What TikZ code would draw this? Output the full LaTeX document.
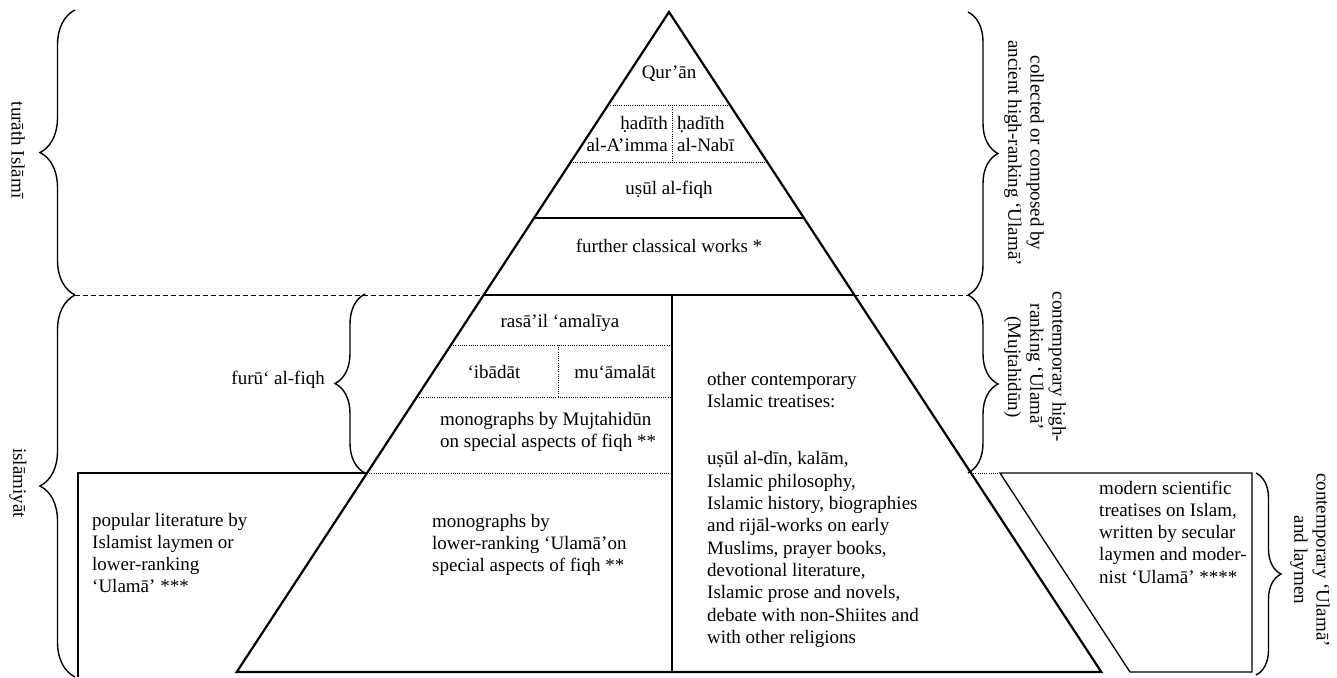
\documentclass[tikz,border=0pt]{standalone}
\usepackage{fontspec}
\setmainfont{Liberation Serif}
\usetikzlibrary{decorations.pathreplacing}
\begin{document}
\begin{tikzpicture}[x=1pt,y=-1pt,
  lbl/.style={font=\fontsize{19}{22.3}\selectfont, inner sep=0pt, align=left},
  clbl/.style={font=\fontsize{19}{22.3}\selectfont, inner sep=0pt, align=center},
  rlbl/.style={clbl, rotate=-90},
  tri/.style={line width=2.2pt, line join=miter},
  solidl/.style={line width=1.3pt},
  dotl/.style={line width=1pt, dash pattern=on 1pt off 1.2pt},
  dashl/.style={line width=1pt, dash pattern=on 5pt off 3pt},
  brc/.style={line width=1.4pt, decorate, decoration={brace, amplitude=#1}},
]
\useasboundingbox (0,0) rectangle (1337,677);
% triangle
\coordinate (A) at (669,12);
\coordinate (BL) at (236.7,672);
\coordinate (BR) at (1101.3,672);
% level points
\coordinate (q1l) at (608.1,105); \coordinate (q1r) at (729.9,105);
\coordinate (h1l) at (570.75,162); \coordinate (h1r) at (767.25,162);
\coordinate (u1l) at (534.1,218); \coordinate (u1r) at (803.9,218);
\coordinate (d1l) at (483.6,295); \coordinate (d1r) at (854.4,295);
\coordinate (r1l) at (450.9,345);
\coordinate (i1l) at (416.8,397);
\coordinate (m1l) at (367,473); \coordinate (m1r) at (971,473);
\coordinate (hv1) at (672,105); \coordinate (hv2) at (672,162);
\coordinate (v1) at (672,295); \coordinate (v2) at (672,672);
\coordinate (r1m) at (672,345); \coordinate (i1m) at (672,397); \coordinate (m1m) at (672,473);
\coordinate (iv1) at (558,345); \coordinate (iv2) at (558,397);
% left box
\coordinate (lb1) at (78,473); \coordinate (lb2) at (78,677);
% right box
\coordinate (rb1) at (1000,473); \coordinate (rb2) at (1252,473);
\coordinate (rb3) at (1252,672); \coordinate (rb4) at (1130,672);
% brace ends
\coordinate (tb1) at (75,10); \coordinate (tb2) at (75,295);
\coordinate (ib2) at (75,677);
\coordinate (cb1) at (968,12); \coordinate (cb2) at (968,295); \coordinate (cb3) at (968,473);
\coordinate (fb1) at (365,294); \coordinate (fb2) at (365,473);
\coordinate (lbr1) at (1256,473); \coordinate (lbr2) at (1256,675);

\draw[tri] (BL) -- (A) -- (BR) -- cycle;
\draw[dotl] (q1l) -- (q1r);
\draw[dotl] (h1l) -- (h1r);
\draw[dotl] (hv1) -- (hv2);
\draw[solidl] (u1l) -- (u1r);
\draw[dashl] (tb2) -- (d1l);
\draw[solidl] (d1l) -- (d1r);
\draw[dashl] (d1r) -- (cb2);
\draw[solidl] (v1) -- (v2);
\draw[dotl] (r1l) -- (r1m);
\draw[dotl] (i1l) -- (i1m);
\draw[dotl] (iv1) -- (iv2);
\draw[dotl] (m1l) -- (m1m);
\draw[solidl] (lb2) -- (lb1) -- (m1l);
\draw[dotl] (m1r) -- (rb1);
\draw[solidl] (rb1) -- (rb2) -- (rb3) -- (rb4) -- cycle;

\draw[brc=35] (tb2) -- (tb1);
\draw[brc=35] (ib2) -- (tb2);
\draw[brc=30] (cb1) -- (cb2);
\draw[brc=30] (cb2) -- (cb3);
\draw[brc=30] (fb2) -- (fb1);
\draw[brc=25] (lbr1) -- (lbr2);

\node[clbl] (quran) at (669,74) {Qur’ān};
\node[lbl, align=right, anchor=east] (hadA) at (668,134) {ḥadīth\\al-A’imma};
\node[lbl, anchor=west] (hadN) at (677,134) {ḥadīth\\al-Nabī};
\node[clbl] (usul) at (669,190) {uṣūl al-fiqh};
\node[clbl] (further) at (669,246) {further classical works *};
\node[clbl] (rasail) at (560,323) {rasā’il ‘amalīya};
\node[clbl] (ibadat) at (494,372) {‘ibādāt};
\node[clbl] (muamalat) at (615,372) {mu‘āmalāt};
\node[lbl, anchor=west] (monoM) at (440,432) {monographs by Mujtahidūn\\on special aspects of fiqh **};
\node[lbl, anchor=west] (monoL) at (432,545) {monographs by\\lower-ranking ‘Ulamā’on\\special aspects of fiqh **};
\node[lbl, anchor=west] (popular) at (92,553) {popular literature by\\Islamist laymen or\\lower-ranking\\‘Ulamā’ ***};
\node[lbl, anchor=north west] (other) at (707,372) {other contemporary\\Islamic treatises:\\[35pt]uṣūl al-dīn, kalām,\\Islamic philosophy,\\Islamic history, biographies\\and rijāl-works on early\\Muslims, prayer books,\\devotional literature,\\Islamic prose and novels,\\debate with non-Shiites and\\with other religions};
\node[lbl, anchor=west] (modern) at (1099,532) {modern scientific\\treatises on Islam,\\written by secular\\laymen and moder-\\nist ‘Ulamā’ ****};
\node[rlbl] (turath) at (18,150) {turāth Islāmī};
\node[rlbl] (islamiyat) at (18,483) {islāmiyāt};
\node[rlbl] (collected) at (1024,153) {collected or composed by\\ancient high-ranking ‘Ulamā’};
\node[rlbl] (contemp) at (1035,367) {contemporary high-\\ranking ‘Ulamā’\\(Mujtahidūn)};
\node[rlbl] (laymen) at (1310,560) {contemporary ‘Ulamā’\\and laymen};
\node[lbl, anchor=east] (furu) at (325,380) {furū‘ al-fiqh};
\end{tikzpicture}
\end{document}
